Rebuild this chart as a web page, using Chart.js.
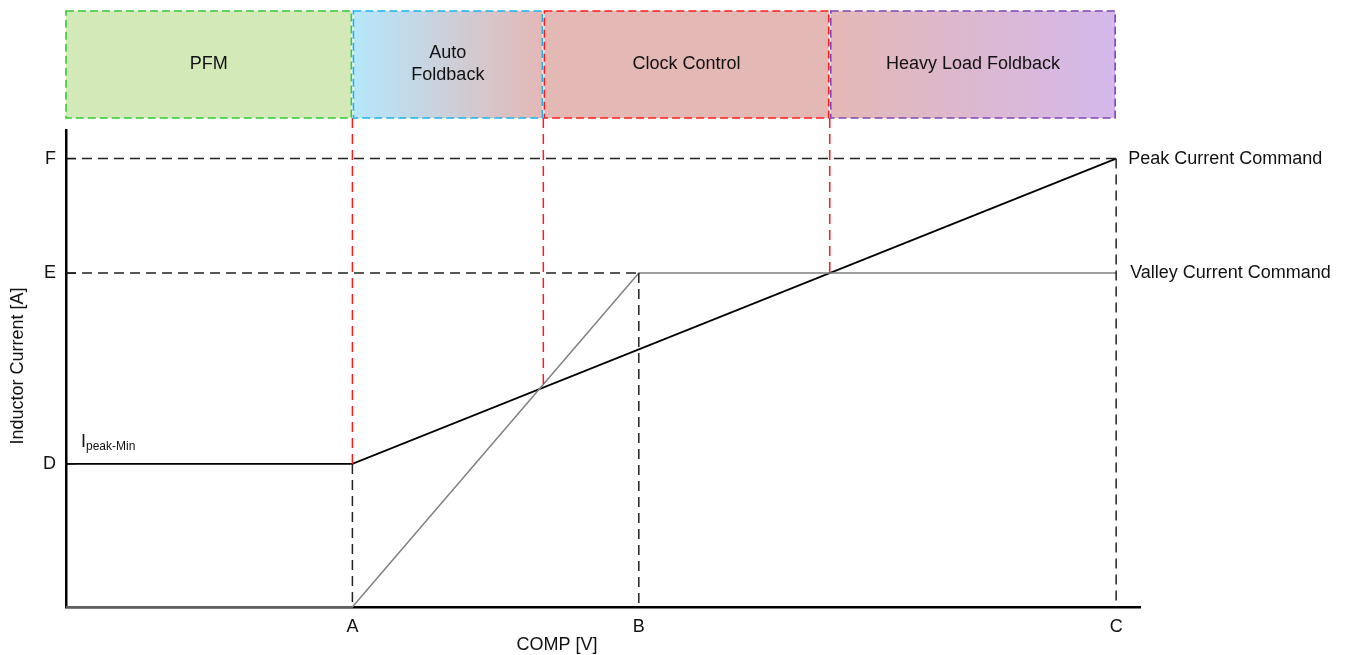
<!DOCTYPE html>
<html>
<head>
<meta charset="utf-8">
<script src="https://cdn.jsdelivr.net/npm/chart.js@4"></script>
<style>
  body { margin: 0; background: #fff; }
  #wrap { width: 1351px; height: 655px; }
</style>
</head>
<body>
<div id="wrap"><canvas id="chart"></canvas></div>
<script>
// axis ticks
const xTickValues = [3, 6, 11];
const xTickLabels = ["A", "B", "C"];
const yTickValues = [3, 7, 9.4];
const yTickLabels = ["D", "E", "F"];

// command curves
const peakX = [0, 3, 11];
const peakY = [3, 3, 9.4];
const valleyX = [0, 3, 6, 11];
const valleyY = [0, 0, 7, 7];

// operating regions on top
const bandNames = ["PFM", "Auto\nFoldback", "Clock Control", "Heavy Load Foldback"];
const bandEdges = [0, 3, 5, 8, 11];

const X_MAX = 11.25;
const Y_MAX = 10;
const BAND_Y = 10.25; // where the red dashes start (top of plot, under bands)

const font = "Liberation Sans, Arial, sans-serif";
const FS = 18;

function pts(xs, ys) {
  return xs.map((x, i) => ({ x: x, y: ys[i] }));
}

function guide(xs, ys, color) {
  return {
    data: pts(xs, ys),
    showLine: true,
    borderColor: color,
    borderWidth: 1.5,
    borderDash: [10, 6],
    pointRadius: 0,
    clip: false,
  };
}

const guides = [
  guide([0, 11], [9.4, 9.4], "#222"),
  guide([0, 6], [7, 7], "#222"),
  guide([3, 3], [3, 0], "#222"),
  guide([6, 6], [7, 0], "#222"),
  guide([11, 11], [9.4, 0], "#222"),
  guide([3, 3], [BAND_Y, 3], "#ff1a1a"),
  guide([5, 5], [BAND_Y, 4.6], "#ff1a1a"),
  guide([8, 8], [BAND_Y, 7], "#ff1a1a"),
];

const bandsPlugin = {
  id: "bands",
  afterDatasetsDraw(chart) {
    const ctx = chart.ctx;
    const xs = chart.scales.x;
    const ys = chart.scales.y;
    const top = 11, bottom = 118;
    const fills = [
      ["#d3eab8", "#d3eab8"],
      ["#b5e7fc", "#e4b8b6"],
      ["#e4b8b5", "#e4b8b5"],
      ["#e4b8b5", "#d4b8eb"],
    ];
    const borders = ["#33cc33", "#1ab2ee", "#ff1a1a", "#7f44b4"];

    ctx.save();
    bandNames.forEach((name, i) => {
      const l = xs.getPixelForValue(bandEdges[i]) + (i === 0 ? 0 : 1);
      const r = xs.getPixelForValue(bandEdges[i + 1]) - 1;
      const g = ctx.createLinearGradient(l, 0, r, 0);
      g.addColorStop(0, fills[i][0]);
      g.addColorStop(1, fills[i][1]);
      ctx.fillStyle = g;
      ctx.fillRect(l, top, r - l, bottom - top);
      ctx.setLineDash([8, 4]);
      ctx.lineWidth = 1.6;
      ctx.strokeStyle = borders[i];
      ctx.strokeRect(l, top, r - l, bottom - top);

      ctx.fillStyle = "#111";
      ctx.font = FS + "px " + font;
      ctx.textAlign = "center";
      ctx.textBaseline = "middle";
      const lines = name.split("\n");
      const cy = (top + bottom) / 2;
      lines.forEach((t, k) => {
        ctx.fillText(t, (l + r) / 2, cy + (k - (lines.length - 1) / 2) * 22);
      });
    });

    // curve names at right end
    ctx.setLineDash([]);
    ctx.textAlign = "left";
    ctx.font = FS + "px " + font;
    const xc = xs.getPixelForValue(11);
    ctx.fillText("Peak Current Command", xc + 12, ys.getPixelForValue(9.4));
    ctx.fillText("Valley Current Command", xc + 14, ys.getPixelForValue(7));

    // Ipeak-Min label
    const lx = xs.getPixelForValue(0) + 15;
    const ly = ys.getPixelForValue(3) - 22;
    ctx.font = FS + "px " + font;
    ctx.fillText("I", lx, ly);
    ctx.font = "12px " + font;
    ctx.fillText("peak-Min", lx + 5, ly + 5);

    // small inward ticks on y axis
    ctx.strokeStyle = "#111";
    ctx.lineWidth = 1.2;
    yTickValues.forEach((v) => {
      const y = ys.getPixelForValue(v);
      ctx.beginPath();
      ctx.moveTo(xs.left, y);
      ctx.lineTo(xs.left + 10, y);
      ctx.stroke();
    });

    // axis titles
    ctx.font = FS + "px " + font;
    ctx.textAlign = "center";
    ctx.fillText("COMP [V]", 557, 645);
    ctx.translate(18, 366);
    ctx.rotate(-Math.PI / 2);
    ctx.fillText("Inductor Current [A]", 0, 0);
    ctx.restore();
  },
};

new Chart(document.getElementById("chart"), {
  type: "scatter",
  data: {
    datasets: [
      ...guides,
      {
        label: "Valley Current Command",
        data: pts(valleyX, valleyY),
        showLine: true,
        borderColor: "#808080",
        borderWidth: 1.5,
        pointRadius: 0,
        clip: false,
      },
      {
        label: "Peak Current Command",
        data: pts(peakX, peakY),
        showLine: true,
        borderColor: "#000",
        borderWidth: 1.8,
        pointRadius: 0,
        clip: false,
      },
    ],
  },
  options: {
    responsive: true,
    maintainAspectRatio: false,
    animation: false,
    layout: { padding: { top: 130, right: 211, bottom: 0, left: 0 } },
    plugins: {
      legend: { display: false },
      tooltip: { enabled: false },
    },
    scales: {
      x: {
        type: "linear",
        min: 0,
        max: X_MAX,
        afterFit: (s) => { s.height = 48; },
        afterBuildTicks: (s) => { s.ticks = xTickValues.map((v) => ({ value: v })); },
        grid: { display: false, drawTicks: false },
        border: { color: "#000", width: 2.5 },
        ticks: {
          padding: 9,
          color: "#111",
          font: { family: font, size: FS },
          callback: (v) => xTickLabels[xTickValues.indexOf(v)],
        },
      },
      y: {
        type: "linear",
        min: 0,
        max: Y_MAX,
        afterFit: (s) => { s.width = 66; },
        afterBuildTicks: (s) => { s.ticks = yTickValues.map((v) => ({ value: v })); },
        grid: { display: false, drawTicks: false },
        border: { color: "#000", width: 2.5 },
        ticks: {
          padding: 10,
          color: "#111",
          font: { family: font, size: FS },
          callback: (v) => yTickLabels[yTickValues.indexOf(v)],
        },
      },
    },
  },
  plugins: [bandsPlugin],
});
</script>
</body>
</html>
